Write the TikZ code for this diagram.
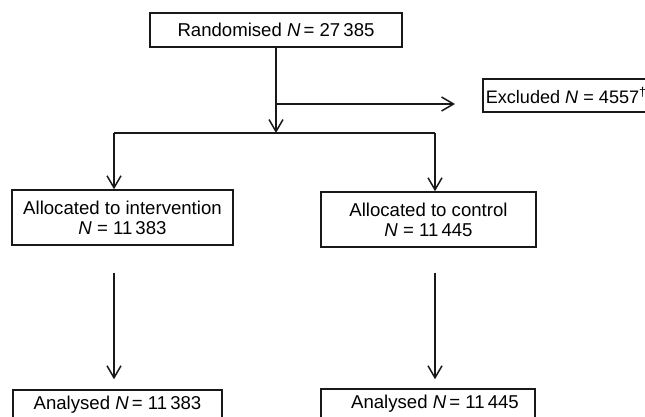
\documentclass[tikz,border=0pt]{standalone}
\usepackage{fontspec}
\setmainfont{Liberation Sans}
\usepackage{tikz}
\usetikzlibrary{arrows.meta, positioning, calc}

\begin{document}
\begin{tikzpicture}[
    x=1pt, y=-1pt,
    every node/.style={font=\fontsize{18.6}{20}\selectfont},
    box/.style={rectangle, draw=black!90, line width=1.5pt, align=center,
                inner sep=0pt, minimum width=#1, minimum height=34pt},
    arr/.style={-{Straight Barb[length=12pt, width=14pt]}, line width=1.5pt, color=black!90},
    link/.style={line width=1.5pt, color=black!90},
]
    \useasboundingbox (0,0) rectangle (645,417);
    \clip (0,0) rectangle (645,417);

    \node[box=252pt] (rand) at (276,30) {Randomised \textit{N}\,= 27\,385};

    \node[box=10pt, minimum height=33pt, inner xsep=3pt, anchor=west,
          font=\fontsize{18.1}{20}\selectfont] (excl) at (482,95.5)
        {Excluded \textit{N} = 4557\textsuperscript{\dag}\hspace*{12pt}};

    \node[box=221pt, minimum height=55pt] (alloc-int) at (122.5,217.5)
        {Allocated to intervention\\\textit{N} = 11\,383};
    \node[box=215pt, minimum height=55pt] (alloc-ctl) at (428.5,219.5)
        {Allocated to control\\\textit{N} = 11\,445};

    \node[box=209pt, minimum height=30pt] (anal-int) at (117.5,405) {Analysed \textit{N}\,= 11\,383};
    \node[box=214pt, minimum height=30pt] (anal-ctl) at (428,404) {\hspace*{14pt}Analysed \textit{N}\,= 11\,445};

    \coordinate (split) at (276,133);
    \coordinate (barL) at (114,133);
    \coordinate (barR) at (435,133);
    \coordinate (exsrc) at (276,104);

    \draw[arr] (rand) -- (split);
    \draw[arr, shorten >=27pt] (exsrc) -- (exsrc -| excl.west);
    \draw[link] (barL) -- (barR);
    \draw[arr] (barL) -- (barL |- alloc-int.north);
    \draw[arr] (barR) -- (barR |- alloc-ctl.north);
    \draw[arr, shorten <=27pt, shorten >=10pt] (barL |- alloc-int.south) -- (barL |- anal-int.north);
    \draw[arr, shorten <=25pt, shorten >=9pt] (barR |- alloc-ctl.south) -- (barR |- anal-ctl.north);
\end{tikzpicture}
\end{document}
